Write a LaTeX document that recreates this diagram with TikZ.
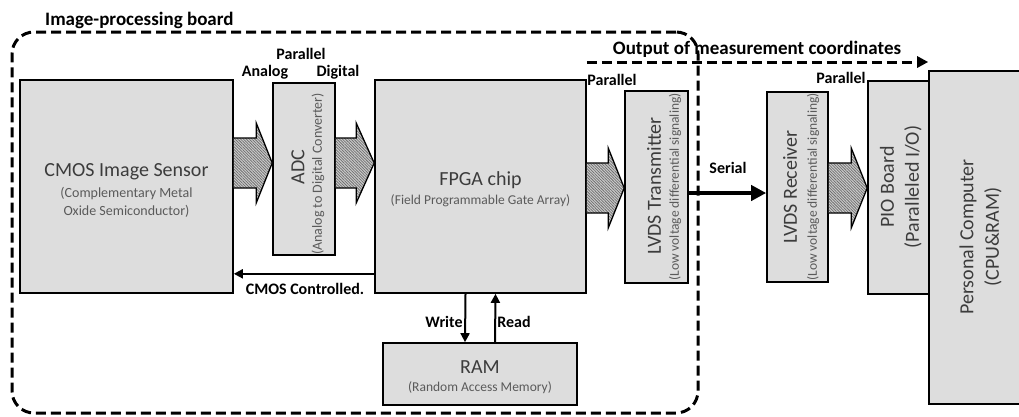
\documentclass[tikz,border=0pt]{standalone}
\usepackage{fontspec}
\setmainfont{Carlito}
\usetikzlibrary{arrows.meta,calc,patterns.meta}

\definecolor{boxgray}{RGB}{221,221,221}
\definecolor{titlegray}{RGB}{60,60,60}
\definecolor{subgray}{RGB}{90,90,90}
\definecolor{hatchgray}{RGB}{110,110,110}

\tikzset{
  block/.style={draw=black, line width=1.6pt, fill=boxgray, inner sep=0pt},
  ttl/.style={text=titlegray, font=\fontsize{20}{22}\selectfont, inner sep=0pt},
  sub/.style={text=subgray, font=\fontsize{13.5}{17}\selectfont, inner sep=0pt, align=center},
  tag/.style={font=\bfseries\fontsize{16}{18}\selectfont, inner sep=0pt},
  heading/.style={font=\bfseries\fontsize{19}{21}\selectfont, inner sep=0pt},
  dashline/.style={line width=3pt, dash pattern=on 10pt off 5pt},
  thinarrow/.style={line width=2pt, -{Triangle[length=9pt,width=9pt]}},
  fatbody/.style={draw=black, line width=1.3pt, line join=miter,
    preaction={fill=gray!40},
    preaction={pattern={Lines[angle=-45,distance=2pt,line width=0.75pt]}, pattern color=hatchgray}},
}

% wide hatched bus arrow: source node, target node, centre y, head length
\newcommand\busarrow[4]{%
  \coordinate (#1-#2-s) at (#1.east |- 0,#3);
  \coordinate (#1-#2-t) at (#2.west |- 0,#3);
  \draw[fatbody] ($(#1-#2-s)+(0,-25)$) -- ($(#1-#2-t)+(-#4,-25)$) -- ($(#1-#2-t)+(-#4,-40)$)
     -- (#1-#2-t) -- ($(#1-#2-t)+(-#4,40)$) -- ($(#1-#2-t)+(-#4,25)$) -- ($(#1-#2-s)+(0,25)$);
}

\begin{document}
\begin{tikzpicture}[x=1pt,y=-1pt]
\clip (0,0) rectangle (1019,416);

% image-processing board outline
\node[draw=black, dashline, rounded corners=22pt, minimum width=686, minimum height=381, inner sep=0pt]
  (board) at (355,222.5) {};
\node[heading, anchor=west] (boardlabel) at (45,20) {Image-processing board};

% blocks
\node[block, minimum width=213, minimum height=213] (cmos) at (126.5,186.5) {};
\node[block, minimum width=62,  minimum height=172] (adc)  at (304,169) {};
\node[block, minimum width=211, minimum height=213] (fpga) at (480.5,186.5) {};
\node[block, minimum width=63,  minimum height=192] (tx)   at (656.5,187) {};
\node[block, minimum width=61,  minimum height=190] (rx)   at (797.5,187) {};
\node[block, minimum width=61,  minimum height=213] (pio)  at (898.5,187.5) {};
\node[block, minimum width=101, minimum height=333] (pc)   at (979.5,237.5) {};
\node[block, minimum width=194, minimum height=62]  (ram)  at (480,374) {};

% block texts
\node[ttl] (cmost) at (126.5,172) {CMOS Image Sensor};
\node[sub, font=\fontsize{14}{18}\selectfont] (cmoss) at (126.5,202) {(Complementary Metal\\Oxide Semiconductor)};
\node[ttl, rotate=90] (adct) at (298,167) {ADC};
\node[sub, rotate=90, font=\fontsize{14}{17}\selectfont] (adcs) at (318,174) {(Analog to Digital Converter)};
\node[ttl] (fpgat) at (480.5,180) {FPGA chip};
\node[sub] (fpgas) at (480.5,201) {(Field Programmable Gate Array)};
\node[ttl, rotate=90] (txt) at (654,186) {LVDS Transmitter};
\node[sub, rotate=90] (txs) at (675,187) {(Low voltage differential signaling)};
\node[ttl, rotate=90] (rxt) at (790,187) {LVDS Receiver};
\node[sub, rotate=90] (rxs) at (813,187) {(Low voltage differential signaling)};
\node[ttl, rotate=90] (piot) at (887,187) {PIO Board};
\node[ttl, rotate=90] (pios) at (913,187) {(Paralleled I/O)};
\node[ttl, rotate=90] (pct) at (968,237) {Personal Computer};
\node[ttl, rotate=90] (pcs) at (993,237) {(CPU\&RAM)};
\node[ttl] (ramt) at (480,367) {RAM};
\node[sub] (rams) at (480,388) {(Random Access Memory)};

% parallel buses
\busarrow{cmos}{adc}{163}{16}
\busarrow{adc}{fpga}{163}{18}
\busarrow{fpga}{tx}{188}{16}
\busarrow{rx}{pio}{188}{16}

% serial link
\draw[line width=4.5pt, -{Triangle[length=15pt,width=15pt]}] ($(tx.east)+(0,6)$) -- ($(rx.west)+(0,6)$);

% control and memory lines
\coordinate (ctl) at ($(fpga.south west)+(0,-20)$);
\draw[thinarrow] (ctl) -- (ctl -| cmos.east);
\draw[thinarrow] ($(fpga.south)+(-15,0)$) -- ($(ram.north)+(-15,0)$);
\draw[thinarrow] ($(ram.north)+(15,0)$) -- ($(fpga.south)+(15,0)$);

% measurement output
\coordinate (outstart) at (fpga.east |- 0,62);
\draw[dashline, -{Triangle[length=11pt,width=11pt]}] (outstart) -- (outstart -| pc.west);
\node[heading] (outlabel) at (757,49) {Output of measurement coordinates};

% signal labels
\node[tag] (par1) at (301,54) {Parallel};
\node[tag] (analog) at (265,72) {Analog};
\node[tag] (digital) at (338,72) {Digital};
\node[tag] (par2) at (612,80) {Parallel};
\node[tag] (par3) at (841,78) {Parallel};
\node[tag] (serial) at (728,168) {Serial};
\node[tag] (write) at (444,322) {Write};
\node[tag] (read) at (514,322) {Read};
\node[tag] (ctllabel) at (305,289) {CMOS Controlled.};
\end{tikzpicture}
\end{document}
